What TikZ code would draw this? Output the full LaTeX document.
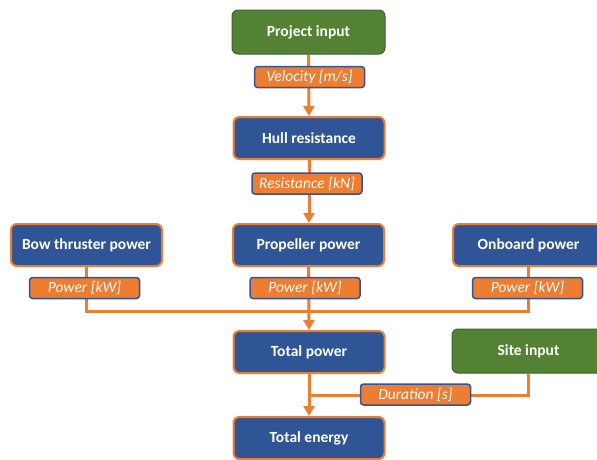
\documentclass[tikz,border=0pt]{standalone}
\usepackage{fontspec}
\setmainfont{Carlito}
\usetikzlibrary{arrows.meta}
\pgfdeclarelayer{bg}
\pgfsetlayers{bg,main}
\definecolor{ogreen}{HTML}{548235}
\definecolor{ogreenline}{HTML}{3F6428}
\definecolor{oblue}{HTML}{2F5597}
\definecolor{oorange}{HTML}{ED7D31}
\tikzset{
  inbox/.style={draw=ogreenline, fill=ogreen, line width=1pt, rounded corners=6pt,
    minimum width=153pt, minimum height=44pt, text=white, font=\bfseries\fontsize{15.5}{17}\selectfont},
  calcbox/.style={draw=oorange, fill=oblue, line width=2pt, rounded corners=6pt,
    minimum width=151pt, minimum height=42pt, text=white, font=\bfseries\fontsize{15.5}{17}\selectfont},
  qty/.style={draw=oblue, fill=oorange, line width=1.5pt, rounded corners=3pt,
    minimum width=110pt, minimum height=21pt, inner sep=0pt, text=white,
    font=\itshape\fontsize{15.5}{17}\selectfont},
  flow/.style={draw=oorange, line width=3pt},
  flowarrow/.style={flow, -{Triangle[length=10pt,width=11pt]}},
}
\begin{document}
\begin{tikzpicture}[x=1pt,y=-1pt]
  \useasboundingbox (0,0) rectangle (597,459);
  \clip (0,0) rectangle (597,459);
  % model blocks
  \node[inbox]   (proj) at (308.5,32)  {Project input};
  \node[calcbox] (hull) at (309,138)   {Hull resistance};
  \node[calcbox] (bow)  at (86.5,245)  {Bow thruster power};
  \node[calcbox] (prop) at (308.5,245) {Propeller power};
  \node[calcbox] (onb)  at (528.5,245) {Onboard power};
  \node[calcbox] (tot)  at (309,352)   {Total power};
  \node[inbox]   (site) at (528.5,351) {Site input};
  \node[calcbox] (ene)  at (309,438)   {Total energy};
  % quantities passed along the connectors
  \node[qty] (vel)  at (309.5,77)  {Velocity [m/s]};
  \node[qty] (res)  at (307,183.5) {Resistance [kN]};
  \node[qty] (pbow) at (84.5,288)  {Power [kW]};
  \node[qty] (pprp) at (305,288)   {Power [kW]};
  \node[qty] (ponb) at (527.5,288) {Power [kW]};
  \node[qty] (dur)  at (415.5,394.5) {Duration [s]};
  \coordinate (sum) at (309,311);
  \coordinate (mix) at (309,395);
  % connectors
  \begin{pgfonlayer}{bg}
    \draw[flowarrow] (proj.south) -- (hull.north);
    \draw[flowarrow] (hull.south) -- (hull.south |- prop.north);
    \draw[flow] (bow.south) -- (bow.south |- sum) -- (onb.south |- sum) -- (onb.south);
    \draw[flowarrow] (prop.south) -- (tot.north);
    \draw[flow] (site.south) -- (site.south |- mix) -- (mix);
    \draw[flowarrow] (tot.south) -- (ene.north);
  \end{pgfonlayer}
\end{tikzpicture}
\end{document}
